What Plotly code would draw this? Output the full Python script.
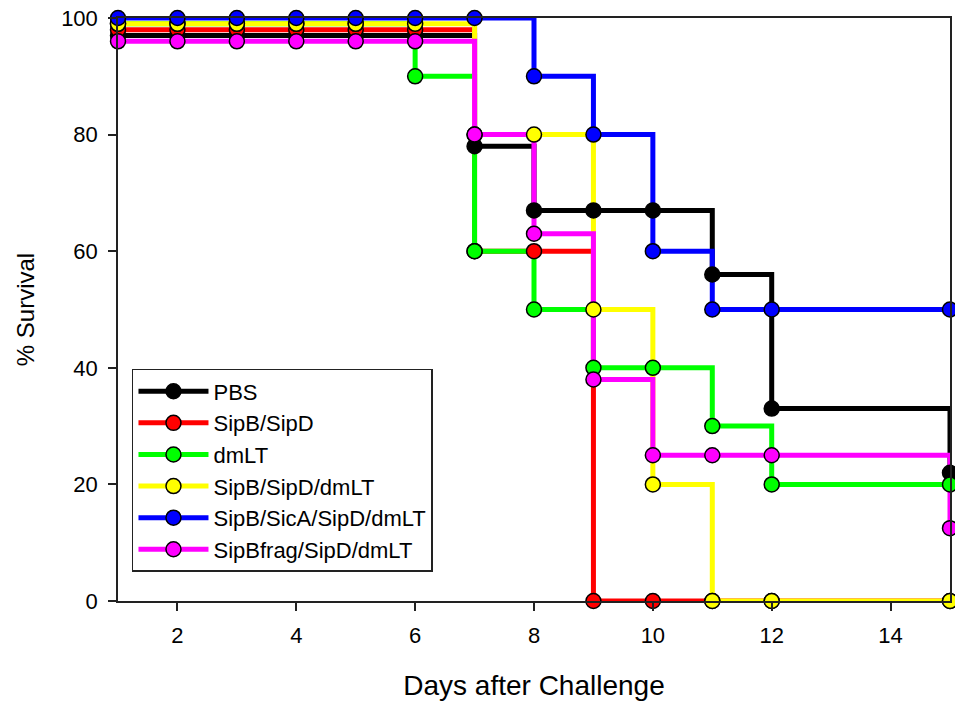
import plotly.graph_objects as go

# ---- data ----
series_names = ["PBS", "SipB/SipD", "dmLT", "SipB/SipD/dmLT",
                "SipB/SicA/SipD/dmLT", "SipBfrag/SipD/dmLT"]
colors = ["#000000", "#ff0000", "#00ff00", "#ffff00", "#0000ff", "#ff00ff"]

pbs_days = [1, 2, 3, 4, 5, 6, 7, 8, 9, 10, 11, 12, 15]
pbs_surv = [97, 97, 97, 97, 97, 97, 78, 67, 67, 67, 56, 33, 22]

sipbd_days = [1, 2, 3, 4, 5, 6, 7, 8, 9, 10, 11, 12, 15]
sipbd_surv = [98, 98, 98, 98, 98, 98, 60, 60, 0, 0, 0, 0, 0]

dmlt_days = [1, 2, 3, 4, 5, 6, 7, 8, 9, 10, 11, 12, 15]
dmlt_surv = [99, 99, 99, 99, 99, 90, 60, 50, 40, 40, 30, 20, 20]

sipbd_dmlt_days = [1, 2, 3, 4, 5, 6, 7, 8, 9, 10, 11, 12, 15]
sipbd_dmlt_surv = [99, 99, 99, 99, 99, 99, 80, 80, 50, 20, 0, 0, 0]

sicA_days = [1, 2, 3, 4, 5, 6, 7, 8, 9, 10, 11, 12, 15]
sicA_surv = [100, 100, 100, 100, 100, 100, 100, 90, 80, 60, 50, 50, 50]

frag_days = [1, 2, 3, 4, 5, 6, 7, 8, 9, 10, 11, 12, 15]
frag_surv = [96, 96, 96, 96, 96, 96, 80, 63, 38, 25, 25, 25, 12.5]

x_ticks = [2, 4, 6, 8, 10, 12, 14]
y_ticks = [0, 20, 40, 60, 80, 100]

all_days = [pbs_days, sipbd_days, dmlt_days, sipbd_dmlt_days, sicA_days, frag_days]
all_surv = [pbs_surv, sipbd_surv, dmlt_surv, sipbd_dmlt_surv, sicA_surv, frag_surv]

FONT = "Arial, Liberation Sans, sans-serif"
LW = 5
MS = 15

fig = go.Figure()

# step lines (all lines under all markers)
for name, c, d, s in zip(series_names, colors, all_days, all_surv):
    fig.add_trace(go.Scatter(x=d, y=s, mode="lines", name=name,
                             line=dict(color=c, width=LW, shape="hv"),
                             showlegend=False, cliponaxis=False, hoverinfo="skip"))

# markers
for name, c, d, s in zip(series_names, colors, all_days, all_surv):
    fig.add_trace(go.Scatter(x=d, y=s, mode="markers", name=name,
                             marker=dict(color=c, size=MS,
                                         line=dict(color="#000000", width=1.5)),
                             showlegend=False, cliponaxis=False))

# legend entries
for name, c in zip(series_names, colors):
    fig.add_trace(go.Scatter(x=[None], y=[None], mode="lines+markers", name=name,
                             line=dict(color=c, width=LW),
                             marker=dict(color=c, size=MS,
                                         line=dict(color="#000000", width=1.5)),
                             showlegend=True))

axis_common = dict(showline=True, linecolor="#222222", linewidth=1.5,
                   mirror=True, showgrid=False, zeroline=False,
                   ticks="outside", ticklen=8, tickwidth=1.5, tickcolor="#222222",
                   tickfont=dict(family=FONT, size=22, color="#000000"))

fig.update_xaxes(range=[1, 15], tickvals=x_ticks, ticklabelstandoff=6,
                 title=dict(text="Days after Challenge",
                            font=dict(family=FONT, size=28, color="#000000"),
                            standoff=28),
                 **axis_common)
fig.update_yaxes(range=[0, 100], tickvals=y_ticks, ticklabelstandoff=6,
                 title=dict(text="% Survival",
                            font=dict(family=FONT, size=24, color="#000000"),
                            standoff=20),
                 **axis_common)

fig.update_layout(
    width=955, height=702,
    margin=dict(l=118, r=3, t=18, b=101),
    paper_bgcolor="white", plot_bgcolor="white",
    font=dict(family=FONT, color="#000000"),
    legend=dict(x=0.0168, y=0.398, xanchor="left", yanchor="top",
                bgcolor="white", bordercolor="#222222", borderwidth=1.5,
                font=dict(family=FONT, size=22, color="#000000"),
                itemsizing="trace", itemwidth=70, traceorder="normal"),
)

fig.write_html("out.html", config={"displayModeBar": False},
               post_script="document.body.style.margin='0';document.body.style.padding='0';")
